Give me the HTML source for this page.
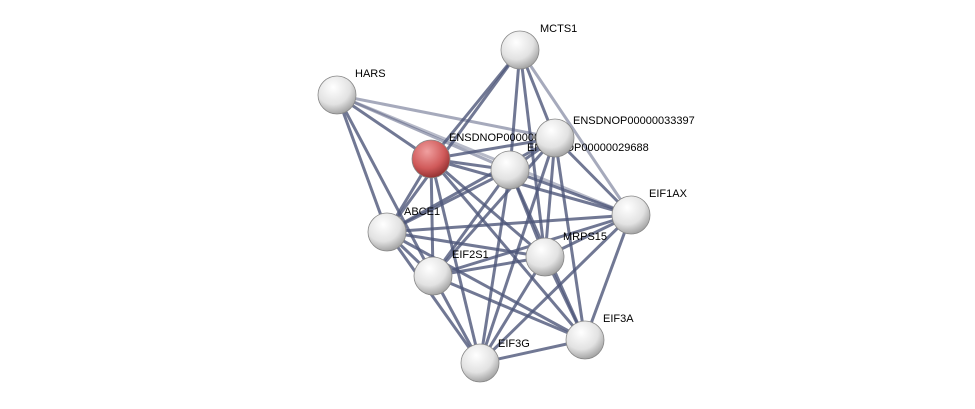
<!DOCTYPE html>
<html><head><style>body{margin:0;background:#fff}svg{display:block}text{font-family:"Liberation Sans",sans-serif;font-size:11px;fill:#000}</style></head><body>
<svg width="975" height="409" viewBox="0 0 975 409">
<defs>
<radialGradient id="w" cx="0.4" cy="0.3" r="0.75"><stop offset="0" stop-color="#fff"/><stop offset="0.6" stop-color="#e2e2e2"/><stop offset="1" stop-color="#9a9a9a"/></radialGradient>
<radialGradient id="r" cx="0.4" cy="0.3" r="0.75"><stop offset="0" stop-color="#f0a0a0"/><stop offset="0.6" stop-color="#d05a5a"/><stop offset="1" stop-color="#8a2a2a"/></radialGradient>
</defs>
<g stroke="#4d5679" stroke-width="3" stroke-opacity="0.8" fill="none">
<line x1="520" y1="50" x2="431" y2="159"/><line x1="520" y1="50" x2="510" y2="170"/><line x1="520" y1="50" x2="555" y2="138"/><line x1="520" y1="50" x2="631" y2="215" stroke-opacity="0.5"/><line x1="520" y1="50" x2="387" y2="232"/><line x1="520" y1="50" x2="545" y2="257"/>
<line x1="337" y1="95" x2="431" y2="159"/><line x1="337" y1="95" x2="387" y2="232"/><line x1="337" y1="95" x2="433" y2="276"/><line x1="337" y1="95" x2="555" y2="138" stroke-opacity="0.5"/><line x1="337" y1="95" x2="631" y2="215" stroke-opacity="0.4"/><line x1="337" y1="95" x2="510" y2="170" stroke-opacity="0.5"/>
<line x1="431" y1="159" x2="510" y2="170"/><line x1="431" y1="159" x2="555" y2="138"/><line x1="431" y1="159" x2="631" y2="215"/><line x1="431" y1="159" x2="387" y2="232"/><line x1="431" y1="159" x2="545" y2="257"/><line x1="431" y1="159" x2="433" y2="276"/><line x1="431" y1="159" x2="585" y2="340"/><line x1="431" y1="159" x2="480" y2="363"/>
<line x1="555" y1="138" x2="510" y2="170"/><line x1="555" y1="138" x2="631" y2="215"/><line x1="555" y1="138" x2="387" y2="232"/><line x1="555" y1="138" x2="545" y2="257"/><line x1="555" y1="138" x2="433" y2="276"/><line x1="555" y1="138" x2="585" y2="340"/><line x1="555" y1="138" x2="480" y2="363"/>
<line x1="510" y1="170" x2="631" y2="215"/><line x1="510" y1="170" x2="387" y2="232"/><line x1="510" y1="170" x2="545" y2="257"/><line x1="510" y1="170" x2="433" y2="276"/><line x1="510" y1="170" x2="585" y2="340"/><line x1="510" y1="170" x2="480" y2="363"/>
<line x1="631" y1="215" x2="387" y2="232"/><line x1="631" y1="215" x2="545" y2="257"/><line x1="631" y1="215" x2="433" y2="276"/><line x1="631" y1="215" x2="585" y2="340"/><line x1="631" y1="215" x2="480" y2="363"/>
<line x1="387" y1="232" x2="545" y2="257"/><line x1="387" y1="232" x2="433" y2="276"/><line x1="387" y1="232" x2="585" y2="340"/><line x1="387" y1="232" x2="480" y2="363"/>
<line x1="545" y1="257" x2="433" y2="276"/><line x1="545" y1="257" x2="585" y2="340"/><line x1="545" y1="257" x2="480" y2="363"/>
<line x1="433" y1="276" x2="585" y2="340"/><line x1="433" y1="276" x2="480" y2="363"/><line x1="585" y1="340" x2="480" y2="363"/>
</g>
<text x="540" y="32">MCTS1</text><text x="355" y="77">HARS</text><text x="449" y="141">ENSDNOP00000000005</text><text x="573" y="124">ENSDNOP00000033397</text><text x="527" y="151">ENSDNOP00000029688</text><text x="649" y="197">EIF1AX</text><text x="404" y="215">ABCE1</text><text x="563" y="240">MRPS15</text><text x="452" y="258">EIF2S1</text><text x="603" y="322">EIF3A</text><text x="498" y="347">EIF3G</text>
<g stroke="#888" stroke-width="0.8">
<circle cx="520" cy="50" r="19" fill="url(#w)"/><circle cx="337" cy="95" r="19" fill="url(#w)"/><circle cx="431" cy="159" r="19" fill="url(#r)"/><circle cx="510" cy="170" r="19" fill="url(#w)"/><circle cx="555" cy="138" r="19" fill="url(#w)"/><circle cx="631" cy="215" r="19" fill="url(#w)"/><circle cx="387" cy="232" r="19" fill="url(#w)"/><circle cx="545" cy="257" r="19" fill="url(#w)"/><circle cx="433" cy="276" r="19" fill="url(#w)"/><circle cx="585" cy="340" r="19" fill="url(#w)"/><circle cx="480" cy="363" r="19" fill="url(#w)"/>
</g>
</svg></body></html>
